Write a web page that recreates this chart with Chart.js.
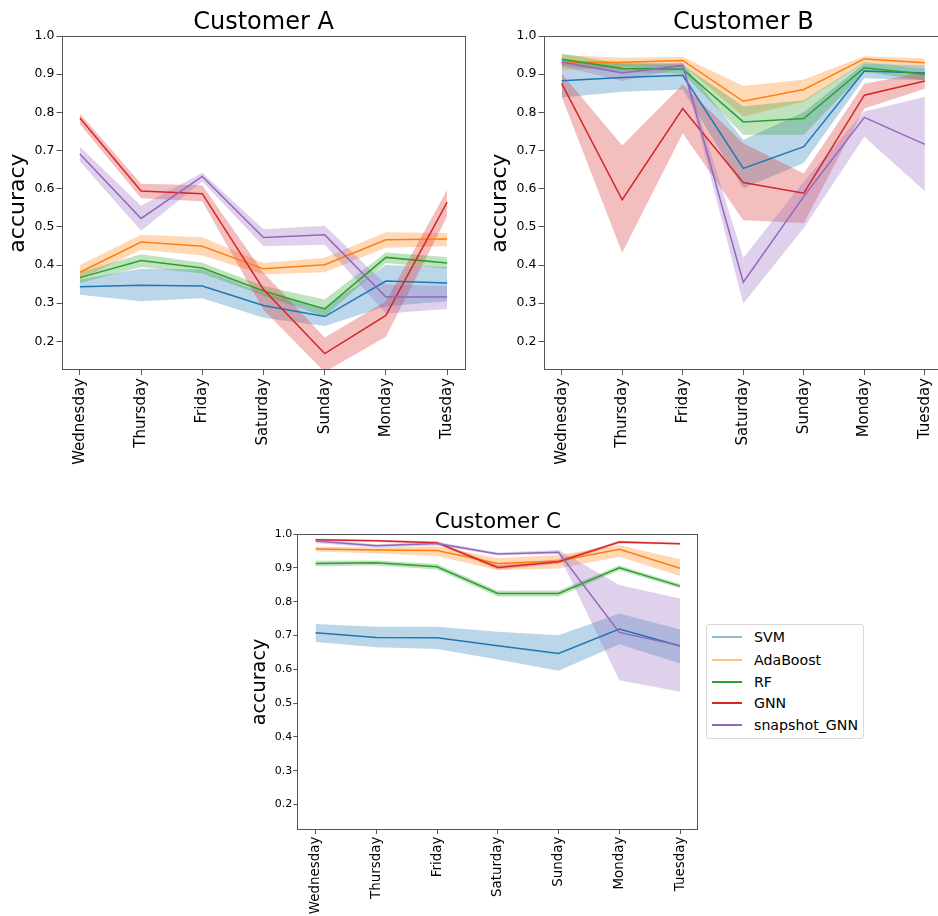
<!DOCTYPE html>
<html>
<head>
<meta charset="utf-8">
<script src="https://cdn.jsdelivr.net/npm/chart.js@4.4.1/dist/chart.umd.min.js"></script>
<style>
  html, body { margin: 0; padding: 0; background: #fff; }
  body { width: 938px; height: 916px; overflow: hidden; position: relative; font-family: 'DejaVu Sans', sans-serif; }
  canvas { position: absolute; }
  #legend { position: absolute; left: 705.7px; top: 624.3px; width: 158.3px; height: 114.7px; box-sizing: border-box;
            border: 1px solid #d9d9d9; border-radius: 3px; background: #fff; }
  .row { position: absolute; left: 0; height: 20px; width: 100%; }
  .swatch { position: absolute; left: 5.3px; width: 30px; height: 2px; top: 9px; }
  .name { position: absolute; left: 47.3px; top: 0; line-height: 20px; font-size: 14.2px; color: #000; white-space: nowrap; }
</style>
</head>
<body>
<canvas id="chartA" width="470" height="480" style="left:0;top:0"></canvas>
<canvas id="chartB" width="476" height="480" style="left:470px;top:0"></canvas>
<canvas id="chartC" width="470" height="416" style="left:240px;top:500px"></canvas>
<div id="legend"></div>
<script>
// weekday axis and models
const days = ['Wednesday', 'Thursday', 'Friday', 'Saturday', 'Sunday', 'Monday', 'Tuesday'];
const models = ['SVM', 'AdaBoost', 'RF', 'GNN', 'snapshot_GNN'];
const yTicks = [0.2, 0.3, 0.4, 0.5, 0.6, 0.7, 0.8, 0.9, 1.0];

// Customer A: mean accuracy and band limits per model (rows follow `models`)
const meanA = [
  [0.343, 0.347, 0.345, 0.294, 0.265, 0.358, 0.353],
  [0.381, 0.460, 0.449, 0.390, 0.401, 0.466, 0.468],
  [0.367, 0.412, 0.392, 0.332, 0.285, 0.420, 0.405],
  [0.785, 0.594, 0.587, 0.336, 0.168, 0.268, 0.565],
  [0.691, 0.522, 0.632, 0.472, 0.479, 0.316, 0.316]
];
const lowA = [
  [0.322, 0.305, 0.313, 0.262, 0.240, 0.292, 0.305],
  [0.362, 0.440, 0.425, 0.375, 0.381, 0.445, 0.449],
  [0.353, 0.395, 0.378, 0.320, 0.265, 0.405, 0.390],
  [0.769, 0.575, 0.567, 0.282, 0.120, 0.212, 0.527],
  [0.671, 0.490, 0.619, 0.449, 0.453, 0.273, 0.285]
];
const highA = [
  [0.362, 0.390, 0.388, 0.327, 0.288, 0.400, 0.395],
  [0.400, 0.479, 0.473, 0.405, 0.419, 0.486, 0.484],
  [0.381, 0.428, 0.406, 0.345, 0.310, 0.433, 0.421],
  [0.797, 0.613, 0.609, 0.380, 0.210, 0.305, 0.597],
  [0.710, 0.555, 0.642, 0.494, 0.503, 0.349, 0.345]
];

// Customer B
const meanB = [
  [0.883, 0.891, 0.897, 0.653, 0.710, 0.908, 0.903],
  [0.930, 0.931, 0.936, 0.829, 0.860, 0.940, 0.930],
  [0.939, 0.915, 0.913, 0.775, 0.784, 0.917, 0.900],
  [0.876, 0.571, 0.810, 0.616, 0.588, 0.845, 0.882],
  [0.932, 0.903, 0.923, 0.355, 0.580, 0.787, 0.716]
];
const lowB = [
  [0.839, 0.854, 0.860, 0.601, 0.667, 0.889, 0.884],
  [0.910, 0.919, 0.925, 0.789, 0.828, 0.930, 0.919],
  [0.923, 0.906, 0.902, 0.741, 0.741, 0.906, 0.884],
  [0.841, 0.432, 0.745, 0.517, 0.510, 0.810, 0.862],
  [0.921, 0.882, 0.915, 0.299, 0.497, 0.736, 0.593]
];
const highB = [
  [0.936, 0.932, 0.928, 0.728, 0.800, 0.928, 0.923],
  [0.950, 0.943, 0.945, 0.869, 0.886, 0.947, 0.941],
  [0.954, 0.928, 0.925, 0.816, 0.832, 0.932, 0.915],
  [0.902, 0.713, 0.873, 0.719, 0.640, 0.875, 0.906],
  [0.941, 0.915, 0.930, 0.419, 0.619, 0.802, 0.841]
];

// Customer C
const meanC = [
  [0.708, 0.694, 0.693, 0.670, 0.647, 0.719, 0.669],
  [0.956, 0.953, 0.951, 0.913, 0.920, 0.955, 0.899],
  [0.913, 0.915, 0.903, 0.824, 0.824, 0.900, 0.846],
  [0.983, 0.980, 0.974, 0.901, 0.918, 0.976, 0.971],
  [0.979, 0.965, 0.972, 0.941, 0.946, 0.709, 0.670]
];
const lowC = [
  [0.681, 0.665, 0.660, 0.629, 0.596, 0.674, 0.617],
  [0.948, 0.943, 0.935, 0.893, 0.898, 0.933, 0.876],
  [0.905, 0.907, 0.895, 0.815, 0.815, 0.893, 0.840],
  [0.980, 0.977, 0.970, 0.895, 0.912, 0.972, 0.968],
  [0.973, 0.960, 0.966, 0.937, 0.941, 0.568, 0.534]
];
const highC = [
  [0.734, 0.726, 0.726, 0.711, 0.701, 0.765, 0.718],
  [0.962, 0.960, 0.964, 0.928, 0.938, 0.967, 0.925],
  [0.921, 0.922, 0.911, 0.832, 0.833, 0.907, 0.852],
  [0.986, 0.983, 0.978, 0.908, 0.925, 0.980, 0.974],
  [0.985, 0.970, 0.977, 0.945, 0.953, 0.849, 0.809]
];

const lineColors = ['#1f77b4', '#ff7f0e', '#2ca02c', '#d62728', '#9467bd'];
const bandColors = ['rgba(31,119,180,0.3)', 'rgba(255,127,14,0.3)', 'rgba(44,160,44,0.3)', 'rgba(214,39,40,0.3)', 'rgba(148,103,189,0.3)'];
const legendColors = ['#8fbbd9', '#ffbf86', '#2ca02c', '#d62728', '#9467bd'];

const FONT = "'DejaVu Sans', sans-serif";
const SPINE = '#555555';

// outline of the whole plotting area (all four spines)
const framePlugin = {
  id: 'frame',
  afterDraw(chart) {
    const { ctx, chartArea: a } = chart;
    ctx.save();
    ctx.strokeStyle = SPINE;
    ctx.lineWidth = 1;
    const l = Math.round(a.left) + 0.5, r = Math.round(a.right) - 0.5;
    const t = Math.round(a.top) + 0.5, b = Math.round(a.bottom) - 0.5;
    ctx.strokeRect(l, t, r - l, b - t);
    ctx.restore();
  }
};

function toPoints(arr) { return arr.map((v, k) => ({ x: k, y: v })); }

function buildChart(id, titleText, mean, low, high, g) {
  const datasets = [];
  models.forEach((m, i) => {
    const base = datasets.length;
    datasets.push({ label: m + ' low', data: toPoints(low[i]), borderColor: 'rgba(0,0,0,0)', borderWidth: 1,
                    pointRadius: 0, fill: false, order: -i });
    datasets.push({ label: m + ' high', data: toPoints(high[i]), borderColor: 'rgba(0,0,0,0)', borderWidth: 1,
                    pointRadius: 0, fill: { target: base }, backgroundColor: bandColors[i], order: -i });
    datasets.push({ label: m, data: toPoints(mean[i]), borderColor: lineColors[i], borderWidth: 1.5,
                    pointRadius: 0, fill: false, order: -i });
  });

  return new Chart(document.getElementById(id), {
    type: 'line',
    data: { datasets },
    options: {
      responsive: false,
      animation: false,
      devicePixelRatio: 1,
      elements: { line: { tension: 0 } },
      layout: { padding: { left: 0, right: g.padRight, top: 0, bottom: 0 } },
      plugins: {
        legend: { display: false },
        tooltip: { enabled: false },
        filler: { drawTime: 'beforeDatasetsDraw' },
        title: {
          display: true, text: titleText, fullSize: false, color: '#000',
          font: { family: FONT, size: g.titleSize, weight: 'normal', lineHeight: 1 },
          padding: { top: g.titleTop, bottom: g.titleBottom }
        }
      },
      scales: {
        x: {
          type: 'linear', min: -0.3, max: 6.3, offset: false,
          afterBuildTicks: s => { s.ticks = days.map((d, k) => ({ value: k })); },
          afterFit: s => { s.height = g.xHeight; },
          grid: { drawOnChartArea: false, drawTicks: true, tickLength: g.tickLen, tickColor: SPINE, tickWidth: 1 },
          border: { display: false },
          ticks: { autoSkip: false, maxRotation: 90, minRotation: 90, padding: g.xPad, color: '#000',
                   font: { family: FONT, size: g.xFont }, callback: v => days[v] }
        },
        y: {
          min: 0.125, max: 1.0,
          afterBuildTicks: s => { s.ticks = yTicks.map(v => ({ value: v })); },
          afterFit: s => { s.width = g.yWidth; },
          grid: { drawOnChartArea: false, drawTicks: true, tickLength: g.tickLen, tickColor: SPINE, tickWidth: 1 },
          border: { display: false },
          ticks: { padding: g.yPad, color: '#000', font: { family: FONT, size: g.yFont }, callback: v => v.toFixed(1) },
          title: { display: true, text: 'accuracy', color: '#000',
                   font: { family: FONT, size: g.labelSize, lineHeight: 1 }, padding: { top: g.labelPad, bottom: 0 } }
        }
      }
    },
    plugins: [framePlugin]
  });
}

const topGeom = { padRight: 4.5, titleSize: 24, titleTop: 10.8, titleBottom: 1.2, xHeight: 110, yWidth: 61.5,
                  tickLen: 5, xPad: 3, yPad: 2, xFont: 15, yFont: 12.5, labelSize: 22, labelPad: 7 };

buildChart('chartA', 'Customer A', meanA, lowA, highA, topGeom);
buildChart('chartB', 'Customer B', meanB, lowB, highB,
           Object.assign({}, topGeom, { padRight: 0, yWidth: 73.5, labelPad: 19 }));
buildChart('chartC', 'Customer C', meanC, lowC, highC,
           { padRight: 11.7, titleSize: 21.5, titleTop: 11.75, titleBottom: 0.75, xHeight: 86, yWidth: 57.3,
             tickLen: 4, xPad: 2.7, yPad: 1, xFont: 13.4, yFont: 11, labelSize: 19.2, labelPad: 10.5 });

// legend for the model lines
const rowCenters = [11.7, 34.4, 56.4, 77.7, 100];
const legend = document.getElementById('legend');
models.forEach((m, i) => {
  const row = document.createElement('div');
  row.className = 'row';
  row.style.top = (rowCenters[i] - 10) + 'px';
  const sw = document.createElement('div');
  sw.className = 'swatch';
  sw.style.background = legendColors[i];
  const name = document.createElement('div');
  name.className = 'name';
  name.textContent = m;
  row.appendChild(sw);
  row.appendChild(name);
  legend.appendChild(row);
});
</script>
</body>
</html>
